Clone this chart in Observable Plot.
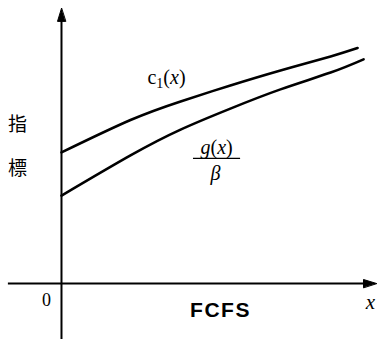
<!DOCTYPE html>
<html>
<head>
<meta charset="utf-8">
<script src="https://cdn.jsdelivr.net/npm/d3@7"></script>
<script src="https://cdn.jsdelivr.net/npm/@observablehq/plot@0.6"></script>
<style>
  html, body { margin: 0; padding: 0; background: #fff; }
  svg { display: block; }
  .serif { font-family: "Liberation Serif", "DejaVu Serif", serif; }
</style>
</head>
<body>
<div id="chart"></div>
<script>
// Curve samples (data units: 1 unit ≈ 30px, origin at the axes crossing)
const c1X = [0, 2.3, 3.97, 5.63, 7.3, 8.97, 9.87];
const c1Y = [4.37, 5.45, 6.07, 6.6, 7.1, 7.57, 7.85];
const gX  = [0, 2.3, 3.97, 5.63, 7.3, 8.97, 10.07];
const gY  = [2.93, 4.27, 5.13, 5.83, 6.47, 7.03, 7.47];

// Annotation texts
const labelTexts = ["c1(x)", "g(x)", "β", "指", "標", "0", "x", "FCFS"];
const labelX     = [3.5, 5.17, 5.13, -1.47, -1.47, -0.5, 10.3, 5.3];
const labelY     = [6.87, 4.53, 3.67, 5.27, 3.83, -0.57, -0.63, -0.9];
const fracBar    = {x1: 4.4, x2: 5.97, y: 4.17};

const c1 = c1X.map((x, i) => ({x, y: c1Y[i]}));
const g  = gX.map((x, i) => ({x, y: gY[i]}));
const labels = labelTexts.map((t, i) => ({t, x: labelX[i], y: labelY[i]}));

const xDom = [-2.033, 10.567], yDom = [-1.867, 9.433];
const yTop = 9.17, xRight = 10.5, xLeft = -1.77;

const head = {
  draw(context, l) {
    const w = 4;
    context.moveTo(0, 0);
    context.lineTo(-w, l);
    context.lineTo(w, l);
    context.closePath();
  }
};

const byT = t => labels.filter(d => d.t === t);
const serifTexts = new Set(["c1(x)", "g(x)", "β", "0", "x"]);

const plot = Plot.plot({
  width: 378, height: 339,
  marginTop: 0, marginRight: 0, marginBottom: 0, marginLeft: 0,
  x: {domain: xDom, axis: null},
  y: {domain: yDom, axis: null},
  style: {background: "#fff"},
  marks: [
    Plot.ruleX([0], {y1: yDom[0], y2: yTop - 0.2, stroke: "#000", strokeWidth: 2}),
    Plot.ruleY([0], {x1: xLeft, x2: xRight - 0.2, stroke: "#000", strokeWidth: 1.8}),
    Plot.vector([{x: 0, y: yTop}], {x: "x", y: "y", length: 13, rotate: 0, anchor: "start", shape: head, fill: "#000", stroke: "#000", strokeWidth: 1}),
    Plot.vector([{x: xRight, y: 0}], {x: "x", y: "y", length: 13, rotate: 90, anchor: "start", shape: head, fill: "#000", stroke: "#000", strokeWidth: 1}),
    Plot.line(c1, {x: "x", y: "y", curve: "natural", stroke: "#000", strokeWidth: 2.6}),
    Plot.line(g, {x: "x", y: "y", curve: "natural", stroke: "#000", strokeWidth: 2.6}),
    Plot.ruleY([fracBar], {y: "y", x1: "x1", x2: "x2", stroke: "#000", strokeWidth: 1.4}),
    Plot.text(byT("c1(x)"), {x: "x", y: "y", text: "t", fontSize: 20, fill: "#000"}),
    Plot.text(byT("g(x)"), {x: "x", y: "y", text: "t", fontSize: 20, fill: "#000"}),
    Plot.text(byT("β"), {x: "x", y: "y", text: "t", fontSize: 20, fontStyle: "italic", fill: "#000"}),
    Plot.text(labels.filter(d => d.t === "指" || d.t === "標"), {x: "x", y: "y", text: "t", fontFamily: "Noto Sans CJK JP", fontSize: 19, fill: "#000"}),
    Plot.text(byT("0"), {x: "x", y: "y", text: "t", fontSize: 18, fill: "#000"}),
    Plot.text(byT("x"), {x: "x", y: "y", text: "t", fontSize: 21, fontStyle: "italic", fill: "#000"}),
    Plot.text(byT("FCFS"), {x: "x", y: "y", text: "t", fontFamily: "Liberation Sans, Arial, sans-serif", fontSize: 21, fontWeight: "bold", fill: "#000"})
  ]
});

// Math typesetting for the formula labels (serif, italic variables, subscript)
d3.select(plot).selectAll("text").each(function() {
  const s = this.textContent;
  const el = d3.select(this);
  if (serifTexts.has(s)) el.attr("class", "serif");
  if (s === "c1(x)") {
    el.text("");
    el.append("tspan").text("c");
    el.append("tspan").attr("dy", 4).attr("font-size", 14).text("1");
    el.append("tspan").attr("dy", -4).text("(");
    el.append("tspan").attr("font-style", "italic").text("x");
    el.append("tspan").text(")");
  } else if (s === "g(x)") {
    el.text("");
    el.append("tspan").attr("font-style", "italic").text("g");
    el.append("tspan").text("(");
    el.append("tspan").attr("font-style", "italic").text("x");
    el.append("tspan").text(")");
  } else if (s === "FCFS") {
    el.attr("letter-spacing", "1.5px");
  }
});

document.getElementById("chart").appendChild(plot);
</script>
</body>
</html>
